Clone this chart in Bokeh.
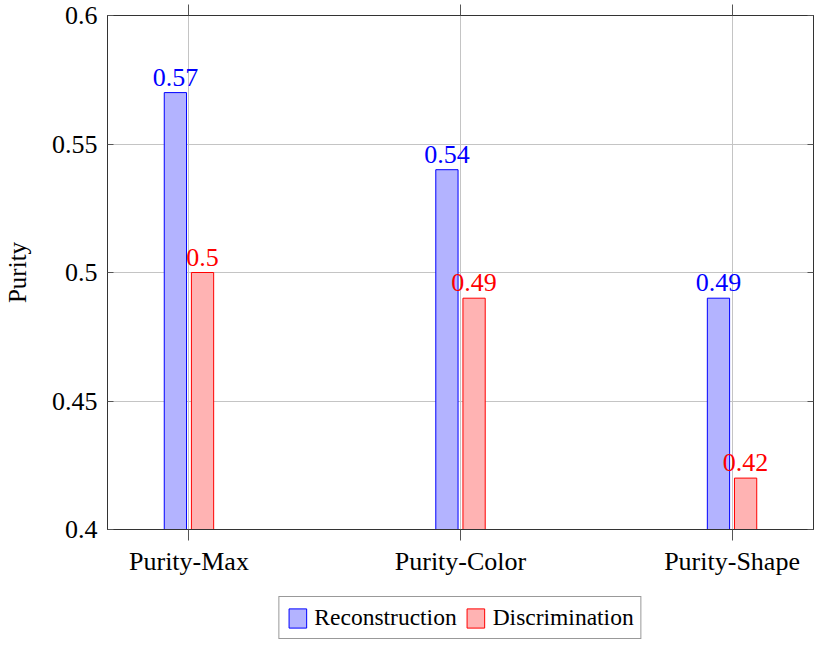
from bokeh.plotting import figure
from bokeh.models import (ColumnDataSource, Range1d, FixedTicker, LinearAxis,
                          Legend, LegendItem)
from bokeh.layouts import column
from bokeh.transform import dodge
from bokeh.core.properties import value
from bokeh.embed import file_html
from bokeh.resources import INLINE

categories = ["Purity-Max", "Purity-Color", "Purity-Shape"]
reconstruction = [0.57, 0.54, 0.49]
discrimination = [0.50, 0.49, 0.42]
y_ticks = [0.4, 0.45, 0.5, 0.55, 0.6]
y_tick_labels = ["0.4", "0.45", "0.5", "0.55", "0.6"]
series_names = ["Reconstruction", "Discrimination"]

FONT = "Liberation Serif"
BLUE = "#0000ff"
RED = "#ff0000"
BLUE_FILL = "#b3b3ff"
RED_FILL = "#ffb3b3"

xs = list(range(len(categories)))
src = ColumnDataSource(dict(
    x=xs,
    rec=reconstruction,
    dis=discrimination,
    rec_label=[f"{v:g}" for v in reconstruction],
    dis_label=[f"{v:g}" for v in discrimination],
))

p = figure(width=815, height=585, output_backend="svg", toolbar_location=None,
           x_range=Range1d(-0.3, 2.3), y_range=Range1d(0.4, 0.6),
           min_border_left=99, min_border_right=2, min_border_top=15,
           min_border_bottom=56)
p.background_fill_color = "white"
p.border_fill_color = "white"
p.outline_line_color = "#333333"
p.outline_line_width = 1

r1 = p.vbar(x=dodge("x", -0.05, range=p.x_range), top="rec", bottom=0, width=0.082,
            source=src, fill_color=BLUE_FILL, line_color=BLUE, line_width=1)
r2 = p.vbar(x=dodge("x", 0.05, range=p.x_range), top="dis", bottom=0, width=0.082,
            source=src, fill_color=RED_FILL, line_color=RED, line_width=1)

# value labels, lifted a few pixels above the bar tops
p.text(x=dodge("x", -0.05, range=p.x_range), y=dodge("rec", 0.006, range=p.y_range),
       text="rec_label", source=src,
       text_align="center", text_baseline="alphabetic",
       text_color=BLUE, text_font=value(FONT), text_font_size="26px")
p.text(x=dodge("x", 0.05, range=p.x_range), y=dodge("dis", 0.006, range=p.y_range),
       text="dis_label", source=src,
       text_align="center", text_baseline="alphabetic",
       text_color=RED, text_font=value(FONT), text_font_size="26px")

# bottom x axis
xa = p.xaxis[0]
xa.ticker = FixedTicker(ticks=xs)
xa.major_label_overrides = {i: c for i, c in zip(xs, categories)}
xa.major_label_text_font = FONT
xa.major_label_text_font_size = "26px"
xa.major_label_text_color = "black"
xa.major_label_standoff = 6
xa.major_tick_out = 11
xa.major_tick_in = 0
xa.minor_tick_line_color = None
xa.axis_line_color = "#333333"
xa.major_tick_line_color = "#555555"

# left y axis
ya = p.yaxis[0]
ya.ticker = FixedTicker(ticks=y_ticks)
ya.major_label_overrides = {t: l for t, l in zip(y_ticks, y_tick_labels)}
ya.major_label_text_font = FONT
ya.major_label_text_font_size = "26px"
ya.major_label_text_color = "black"
ya.major_label_standoff = 10
ya.major_tick_out = 0
ya.major_tick_in = 6
ya.minor_tick_line_color = None
ya.axis_line_color = "#333333"
ya.major_tick_line_color = "#555555"
ya.axis_label = "Purity"
ya.axis_label_text_font = FONT
ya.axis_label_text_font_size = "25px"
ya.axis_label_text_font_style = "normal"
ya.axis_label_text_color = "black"
ya.axis_label_standoff = 18

# top axis (ticks only)
ta = LinearAxis(ticker=FixedTicker(ticks=xs), major_label_text_font_size="0px",
                major_label_standoff=0, major_tick_out=11, major_tick_in=0,
                minor_tick_line_color=None, axis_line_color="#333333",
                major_tick_line_color="#555555")
ta.major_label_overrides = {i: "" for i in xs}
p.add_layout(ta, "above")

# right axis (ticks only)
ra = LinearAxis(ticker=FixedTicker(ticks=y_ticks), major_label_text_font_size="0px",
                major_label_standoff=0, major_tick_out=0, major_tick_in=6,
                minor_tick_line_color=None, axis_line_color="#333333",
                major_tick_line_color="#555555")
ra.major_label_overrides = {t: "" for t in y_ticks}
p.add_layout(ra, "right")

p.xgrid.ticker = FixedTicker(ticks=xs)
p.ygrid.ticker = FixedTicker(ticks=y_ticks)
p.xgrid.grid_line_color = "#c4c4c4"
p.ygrid.grid_line_color = "#c4c4c4"

# legend strip below the chart (its bars use the same data, kept out of view)
lf = figure(width=815, height=55, output_backend="svg", toolbar_location=None,
            x_range=Range1d(-0.3, 2.3), y_range=Range1d(5, 6),
            x_axis_location=None, y_axis_location=None,
            min_border_left=99, min_border_right=2, min_border_top=0,
            min_border_bottom=0)
lf.grid.visible = False
lf.outline_line_color = None
lf.background_fill_color = "white"
lf.border_fill_color = "white"
l1 = lf.vbar(x="x", top="rec", bottom=0, width=0.082, source=src,
             fill_color=BLUE_FILL, line_color=BLUE)
l2 = lf.vbar(x="x", top="dis", bottom=0, width=0.082, source=src,
             fill_color=RED_FILL, line_color=RED)

legend = Legend(items=[LegendItem(label=series_names[0], renderers=[l1]),
                       LegendItem(label=series_names[1], renderers=[l2])],
                orientation="horizontal", location="bottom_center",
                label_text_font=FONT, label_text_font_size="23.5px",
                label_text_color="black", glyph_width=22, glyph_height=24,
                label_standoff=6, spacing=8, padding=7, margin=1,
                border_line_color="#333333", border_line_width=1,
                background_fill_color="white", background_fill_alpha=1.0)
lf.add_layout(legend)

open("out.html", "w").write(file_html(column(p, lf), INLINE))
